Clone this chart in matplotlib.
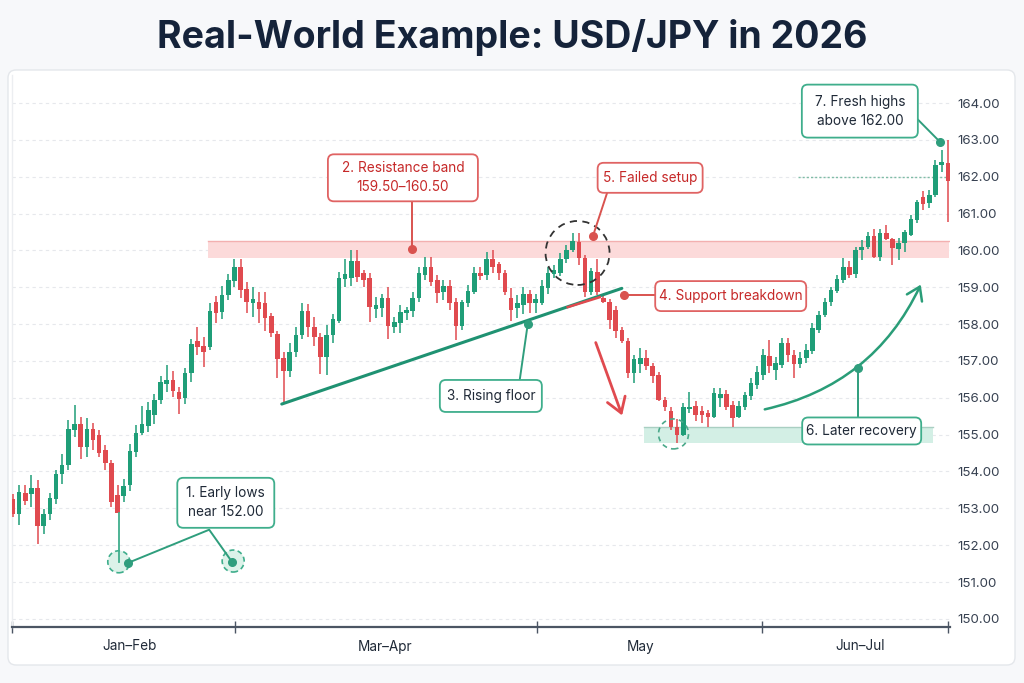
import matplotlib
matplotlib.use("Agg")
import matplotlib.pyplot as plt
from matplotlib.patches import FancyBboxPatch, Rectangle, Ellipse, FancyArrowPatch
import numpy as np

# ---------------- data ----------------
opens = [153.26, 152.86, 153.42, 153.38, 153.56, 152.51, 152.86, 153.26, 153.92, 154.17,
         155.12, 155.30, 154.67, 155.14, 154.98, 154.58, 154.23, 153.35, 153.33, 153.63,
         154.53, 155.04, 155.23, 155.52, 155.93, 156.38, 156.49, 156.16, 156.00, 156.67,
         157.55, 157.40, 157.37, 158.61, 158.34, 158.79, 159.18, 159.56, 158.94, 158.58,
         158.61, 158.58, 158.22, 157.73, 157.07, 156.74, 157.25, 157.70, 158.36, 157.93,
         157.64, 157.12, 157.70, 158.09, 159.22, 159.24, 159.72, 159.38, 159.24, 158.40,
         158.43, 158.72, 157.91, 158.02, 158.29, 158.36, 158.72, 159.33, 159.56, 159.21,
         158.88, 159.03, 158.61, 157.95, 158.56, 158.88, 159.38, 159.33, 159.78, 159.63,
         159.38, 158.72, 158.43, 158.52, 158.81, 158.56, 158.58, 158.99, 159.36, 159.40,
         159.78, 160.01, 160.23, 159.79, 158.88, 159.42, 158.70, 158.61, 158.38, 157.84,
         157.53, 156.67, 156.92, 157.07, 156.85, 156.62, 155.93, 155.65, 155.22, 155.00,
         155.70, 155.78, 155.65, 155.58, 155.49, 156.00, 156.10, 155.81, 155.49, 155.74,
         156.05, 156.35, 156.62, 157.14, 156.76, 156.90, 157.50, 157.16, 156.92, 157.07,
         157.28, 157.84, 158.25, 158.61, 158.91, 159.20, 159.54, 159.36, 160.01, 160.10,
         160.39, 159.83, 160.48, 160.30, 160.03, 160.19, 160.42, 160.82, 161.44, 161.28,
         161.51, 162.32, 162.38]
highs = [153.40, 153.63, 153.63, 153.90, 153.78, 152.99, 153.42, 154.03, 154.47, 155.39,
         155.80, 155.48, 155.46, 155.32, 155.12, 154.71, 154.32, 153.63, 153.80, 154.74,
         155.25, 155.77, 155.89, 156.10, 156.58, 156.90, 156.73, 156.30, 156.82, 157.60,
         157.91, 157.64, 158.58, 158.76, 159.03, 159.36, 159.78, 159.78, 159.15, 159.01,
         158.88, 158.88, 158.31, 157.82, 157.25, 157.48, 157.91, 158.58, 158.54, 158.18,
         157.77, 157.97, 158.27, 159.42, 159.78, 160.01, 160.01, 159.47, 159.38, 158.74,
         158.83, 159.01, 158.20, 158.52, 158.47, 158.88, 159.54, 159.81, 159.81, 159.33,
         159.21, 159.21, 158.70, 158.65, 159.06, 159.54, 159.54, 159.96, 160.01, 159.69,
         159.47, 158.97, 158.79, 159.01, 158.92, 158.83, 159.20, 159.54, 159.60, 159.92,
         160.14, 160.46, 160.46, 159.87, 159.51, 159.78, 158.76, 158.67, 158.48, 157.92,
         157.62, 157.16, 157.35, 157.30, 156.94, 156.71, 156.03, 155.76, 155.42, 155.85,
         156.17, 155.90, 155.78, 155.67, 156.26, 156.26, 156.22, 155.90, 155.90, 156.17,
         156.53, 156.85, 157.32, 157.57, 157.12, 157.62, 157.62, 157.30, 157.25, 157.45,
         158.02, 158.35, 158.70, 159.02, 159.34, 159.79, 159.70, 160.10, 160.29, 160.51,
         160.58, 160.58, 160.69, 160.33, 160.33, 160.56, 160.96, 161.37, 161.60, 161.64,
         162.46, 162.73, 163.00]
lows = [152.77, 152.54, 153.08, 153.04, 152.04, 152.31, 152.68, 153.13, 153.67, 154.03,
        154.94, 154.35, 154.39, 154.58, 154.39, 154.03, 153.04, 152.87, 153.17, 153.47,
        154.39, 154.98, 155.07, 155.30, 155.82, 156.16, 156.02, 155.56, 155.82, 156.43,
        157.16, 156.84, 157.31, 158.02, 158.13, 158.65, 159.01, 158.70, 158.31, 158.20,
        158.02, 157.82, 157.66, 156.53, 155.85, 156.56, 157.12, 157.59, 157.64, 157.41,
        156.65, 156.62, 157.50, 158.02, 159.01, 159.03, 159.15, 159.01, 158.06, 158.16,
        158.18, 157.59, 157.75, 157.77, 158.11, 158.20, 158.61, 159.21, 159.03, 158.58,
        158.65, 158.38, 157.57, 157.84, 158.47, 158.81, 159.21, 159.21, 159.38, 159.21,
        158.79, 158.09, 158.16, 158.27, 158.29, 158.29, 158.52, 158.83, 159.25, 159.30,
        159.65, 159.96, 159.60, 158.74, 158.79, 158.79, 158.58, 157.88, 157.62, 157.48,
        156.53, 156.40, 156.67, 156.76, 156.40, 155.90, 155.63, 155.13, 154.77, 154.95,
        155.58, 155.36, 155.31, 155.22, 155.45, 155.76, 155.67, 155.22, 155.45, 155.67,
        155.94, 156.25, 156.49, 156.67, 156.49, 156.80, 156.98, 156.53, 156.80, 156.95,
        157.20, 157.75, 158.18, 158.48, 158.84, 159.11, 159.25, 159.25, 159.74, 160.05,
        159.79, 159.70, 160.29, 159.61, 159.74, 159.97, 160.38, 160.75, 161.10, 161.15,
        161.46, 162.14, 160.78]
closes = [152.86, 153.45, 153.20, 153.56, 152.51, 152.86, 153.29, 153.94, 154.17, 155.14,
          155.30, 154.67, 155.14, 154.85, 154.50, 154.23, 153.17, 152.88, 153.60, 154.56,
          155.04, 155.28, 155.68, 155.95, 156.43, 156.49, 156.18, 155.98, 156.67, 157.47,
          157.39, 157.25, 158.36, 158.31, 158.79, 159.20, 159.56, 158.92, 158.61, 158.67,
          158.40, 158.16, 157.75, 157.04, 156.74, 157.25, 157.70, 158.36, 157.91, 157.66,
          157.12, 157.70, 158.13, 159.24, 159.35, 159.72, 159.27, 159.20, 158.47, 158.52,
          158.72, 157.95, 158.06, 158.34, 158.38, 158.72, 159.38, 159.56, 159.15, 158.85,
          159.03, 158.58, 157.95, 158.61, 158.90, 159.38, 159.30, 159.78, 159.56, 159.38,
          158.88, 158.38, 158.58, 158.81, 158.58, 158.67, 159.03, 159.38, 159.46, 159.78,
          160.01, 160.25, 159.80, 158.88, 159.43, 158.86, 158.61, 158.11, 157.80, 157.53,
          156.67, 157.05, 157.07, 156.85, 156.60, 155.94, 155.75, 155.22, 155.00, 155.74,
          155.76, 155.54, 155.54, 155.47, 156.12, 156.10, 155.76, 155.45, 155.78, 156.08,
          156.40, 156.71, 157.16, 156.85, 156.94, 157.50, 157.16, 156.92, 157.07, 157.30,
          157.89, 158.25, 158.61, 158.93, 159.22, 159.54, 159.33, 160.01, 160.08, 160.39,
          159.83, 160.48, 160.30, 160.06, 160.19, 160.51, 160.84, 161.30, 161.26, 161.50,
          162.32, 162.41, 161.87]

period_labels = ["Jan\u2013Feb", "Mar\u2013Apr", "May", "Jun\u2013Jul"]
period_bounds = [-0.16, 36.1, 85.2, 121.8, 152.0]
period_label_pos = [19.0, 60.5, 102.0, 137.7]
price_ticks = list(range(150, 165))

resistance_band = (159.80, 160.25)
support_band = (154.77, 155.20)
highs_reference = 162.0

# ---------------- styling ----------------
W, H, DPI = 1024, 683, 100
GREEN = "#1f9e78"
RED = "#e04a4f"
GBOX = "#3fae8c"
RBOX = "#e06363"
RTEXT = "#c62828"
DTEXT = "#1f2937"
FONT = "Inter"

plt.rcParams["font.family"] = [FONT, "DejaVu Sans"]

fig = plt.figure(figsize=(W / DPI, H / DPI), dpi=DPI)
fig.patch.set_facecolor("#f7f8fa")

card = FancyBboxPatch((8 / DPI, (H - 665) / DPI), (1015 - 8) / DPI, (665 - 70) / DPI,
                      boxstyle="round,pad=0,rounding_size=0.08",
                      transform=fig.dpi_scale_trans, facecolor="white",
                      edgecolor="#e4e7eb", lw=1.0, zorder=-5)
fig.patches.append(card)

fig.text(0.5, 1 - 38 / H, "Real-World Example: USD/JPY in 2026", ha="center",
         va="center", fontsize=27, fontweight="bold", color="#15233a")

ax = fig.add_axes([12 / W, 1 - 627 / H, (950 - 12) / W, (627 - 75) / H])
ax.set_zorder(2)
ax.set_facecolor("none")
ax.set_xlim(-0.163, 152.36)
ax.set_ylim(149.78, 164.76)

# grid
ax.set_yticks(price_ticks)
ax.set_yticklabels([f"{v:.2f}" for v in price_ticks])
ax.yaxis.tick_right()
ax.tick_params(axis="y", length=0, pad=5, labelsize=9.6, labelcolor="#374151")
for v in price_ticks:
    ax.axhline(v, color="#e6e8ec", lw=0.8, ls=(0, (3, 3)), zorder=0)

# x axis
ax.set_xticks(period_bounds)
ax.set_xticklabels([])
ax.set_xticks(period_label_pos, minor=True)
ax.set_xticklabels(period_labels, minor=True)
ax.tick_params(axis="x", which="major", direction="inout", length=9, width=1.0,
               color="#4b5563")
ax.tick_params(axis="x", which="minor", length=0, pad=9, labelsize=9.8,
               labelcolor=DTEXT)
for s in ["top", "right"]:
    ax.spines[s].set_visible(False)
ax.spines["left"].set_color("#eceef1")
ax.spines["left"].set_linewidth(1.0)
ax.spines["bottom"].set_color("#4b5563")
ax.spines["bottom"].set_linewidth(1.6)

# bands
ax.add_patch(Rectangle((31.7, resistance_band[0]), 152.2 - 31.7,
                       resistance_band[1] - resistance_band[0],
                       facecolor="#fcdada", edgecolor="none", zorder=1))
ax.plot([31.7, 152.2], [resistance_band[1]] * 2, color="#f3b0b0", lw=1.0, zorder=1)
ax.add_patch(Rectangle((102.6, support_band[0]), 149.6 - 102.6,
                       support_band[1] - support_band[0],
                       facecolor="#d3efe5", edgecolor="none", zorder=1))
ax.plot([102.6, 149.6], [support_band[1]] * 2, color="#a9cfc2", lw=1.0, zorder=1)

ax.plot([127.6, 152.3], [highs_reference] * 2, color="#7fbca6", lw=1.0,
        ls=(0, (1.5, 1.5)), zorder=1)

# candles
idx = np.arange(len(closes))
o = np.array(opens); c = np.array(closes); h = np.array(highs); l = np.array(lows)
colors = np.where(c >= o, GREEN, RED)
ax.vlines(idx, l, h, colors=colors, lw=1.1, zorder=3)
body = np.maximum(np.abs(c - o), 0.06)
ax.bar(idx, body, bottom=np.minimum(o, c), width=0.74, color=colors, zorder=4,
       linewidth=0)

# rising floor and failed-setup line
ax.plot([43.7, 99.0], [155.83, 158.97], color="#1f9272", lw=2.2, zorder=5,
        solid_capstyle="round")
ax.plot([90.2, 95.4], [158.46, 158.73], color=RED, lw=1.8, zorder=5)

# circles
def circle(i, p, r_px, edge, fill="none", ls=(0, (3, 2)), lw=1.2, z=5):
    e = Ellipse((i, p), 2 * r_px / 6.15, 2 * r_px / 36.86, facecolor=fill,
                edgecolor=edge, ls=ls, lw=lw, zorder=z)
    ax.add_patch(e)

circle(17.2, 151.55, 11, GBOX, fill="#dcf2e9")
circle(35.8, 151.57, 11, GBOX, fill="#dcf2e9")
circle(91.8, 159.93, 32, "#333333", ls=(0, (4, 3)), lw=1.3, z=6)
circle(107.4, 155.02, 15, "#4aa98a", ls=(0, (3, 2.5)), lw=1.2, z=6)

# arrows
ax.add_patch(FancyArrowPatch((94.6, 157.57), (99.2, 155.45),
                             arrowstyle="->,head_length=7,head_width=4.5",
                             color=RED, lw=2.0, zorder=6, mutation_scale=1.5))
ax.add_patch(FancyArrowPatch((121.8, 155.67), (147.8, 159.14),
                             connectionstyle="arc3,rad=0.25",
                             arrowstyle="->,head_length=6,head_width=4",
                             color="#2a9d78", lw=1.8, zorder=6, mutation_scale=1.5))

# annotation boxes
def box(i, p, w_px, h_px, text, edge, tcolor):
    xd, yd = ax.transData.transform((i, p))
    patch = FancyBboxPatch(((xd - w_px / 2) / DPI, (yd - h_px / 2) / DPI),
                           w_px / DPI, h_px / DPI,
                           boxstyle="round,pad=0,rounding_size=0.06",
                           transform=fig.dpi_scale_trans, facecolor="white",
                           edgecolor=edge, lw=1.3, zorder=8)
    ax.add_artist(patch)
    ax.text(i, p, text, ha="center", va="center", fontsize=9.8, color=tcolor,
            linespacing=1.45, zorder=9)

def leader(pts, color, dot):
    xs, ys = zip(*pts)
    ax.plot(xs, ys, color=color, lw=1.4, zorder=7)
    ax.plot([dot[0]], [dot[1]], "o", ms=5.5, color=color, zorder=7)

# 1
ax.plot([17.2, 17.2], [152.87, 151.55], color=GBOX, lw=1.3, zorder=5)
leader([(18.7, 151.52), (31.9, 152.42), (35.6, 151.55)], "#2f9e7d", (18.7, 151.52))
ax.plot([35.6], [151.55], "o", ms=5.5, color="#2f9e7d", zorder=7)
box(34.6, 153.15, 97, 50, "1. Early lows\nnear 152.00", GBOX, DTEXT)
# 2
leader([(64.9, 161.31), (64.9, 160.04)], "#d9534f", (64.9, 160.04))
box(63.4, 161.97, 150, 47, "2. Resistance band\n159.50\u2013160.50", RBOX, RTEXT)
# 3
leader([(82.4, 156.49), (83.7, 158.0)], "#2f9e7d", (83.7, 158.0))
box(77.7, 156.05, 102, 32, "3. Rising floor", GBOX, DTEXT)
# 4
leader([(104.6, 158.79), (99.3, 158.79)], "#d9534f", (99.3, 158.79))
box(116.7, 158.76, 151, 30, "4. Support breakdown", RBOX, RTEXT)
# 5
leader([(96.6, 161.56), (94.3, 160.39)], "#d9534f", (94.3, 160.39))
box(103.6, 161.97, 105, 30, "5. Failed setup", RBOX, RTEXT)
# 6
leader([(137.4, 155.45), (137.4, 156.81)], "#2f9e7d", (137.4, 156.81))
box(138.0, 155.10, 119, 27, "6. Later recovery", GBOX, DTEXT)
# 7
leader([(147.2, 163.54), (150.7, 162.95)], "#2f9e7d", (150.7, 162.95))
box(137.7, 163.78, 116, 53, "7. Fresh highs\nabove 162.00", GBOX, DTEXT)

fig.savefig("out.png", dpi=DPI, facecolor=fig.get_facecolor())
